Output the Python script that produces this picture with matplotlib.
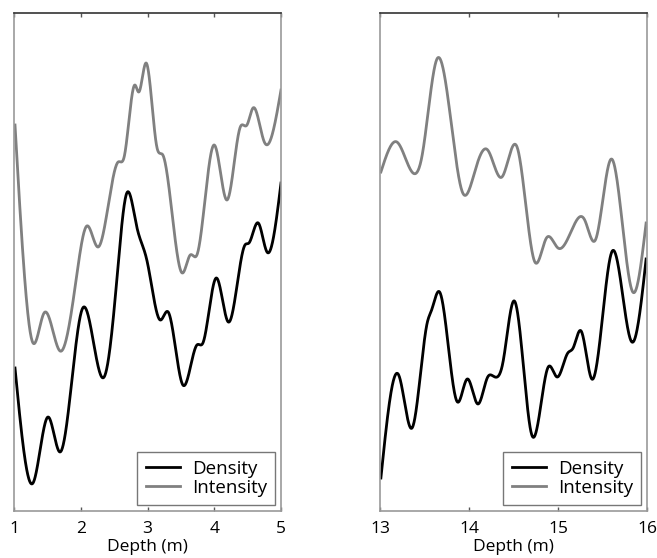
import numpy as np
import matplotlib
matplotlib.use("Agg")
import matplotlib.pyplot as plt

plt.rcParams['font.family'] = ['Open Sans', 'DejaVu Sans']

# Left panel data (depth m, arbitrary signal)
left_int_x = [1.015, 1.285, 1.45, 1.69, 1.93, 2.09, 2.26, 2.56, 2.65, 2.81, 2.87, 2.98,
              3.14, 3.23, 3.52, 3.64, 3.74, 4.00, 4.19, 4.39, 4.49, 4.58, 4.75, 5.0]
left_int_y = [386, 168, 198, 160, 231, 285, 264, 349, 354, 426, 419, 448,
              364, 356, 238, 256, 256, 366, 311, 384, 386, 403, 369, 421]
left_den_x = [1.015, 1.285, 1.51, 1.69, 2.03, 2.35, 2.54, 2.69, 2.84, 2.99, 3.19, 3.31, 3.53,
              3.74, 3.83, 4.03, 4.21, 4.46, 4.52, 4.66, 4.79, 5.0]
left_den_y = [143, 28, 94, 59, 203, 134, 231, 318, 284, 251, 191, 199, 126,
              166, 168, 233, 189, 266, 268, 288, 259, 328]

# Right panel data
right_int_x = [13.01, 13.19, 13.36, 13.47, 13.64, 13.93, 14.07, 14.21, 14.37, 14.54, 14.74,
               14.87, 15.0, 15.17, 15.30, 15.42, 15.60, 15.84, 15.99]
right_int_y = [339, 369, 339, 354, 452, 318, 341, 361, 334, 364, 249,
               273, 263, 284, 291, 271, 352, 219, 288]
right_den_x = [13.01, 13.21, 13.36, 13.53, 13.58, 13.67, 13.87, 13.98, 14.10, 14.21, 14.27,
               14.38, 14.51, 14.71, 14.89, 14.99, 15.11, 15.17, 15.26, 15.38, 15.61, 15.83, 15.99]
right_den_y = [33, 136, 83, 188, 201, 219, 109, 132, 107, 134, 135,
               148, 210, 75, 144, 134, 158, 163, 180, 132, 260, 169, 252]

left_ticks = [1, 2, 3, 4, 5]
right_ticks = [13, 14, 15, 16]
xlabel = "Depth (m)"
labels = ["Density", "Intensity"]


def spline(x, y, xs):
    """Natural cubic spline through the read points (for smooth drawing)."""
    x = np.asarray(x, float); y = np.asarray(y, float)
    n = len(x); h = np.diff(x)
    A = np.zeros((n, n)); b = np.zeros(n)
    A[0, 0] = A[-1, -1] = 1.0
    for i in range(1, n - 1):
        A[i, i - 1] = h[i - 1]
        A[i, i] = 2 * (h[i - 1] + h[i])
        A[i, i + 1] = h[i]
        b[i] = 3 * ((y[i + 1] - y[i]) / h[i] - (y[i] - y[i - 1]) / h[i - 1])
    c = np.linalg.solve(A, b)
    bb = (y[1:] - y[:-1]) / h - h * (2 * c[:-1] + c[1:]) / 3
    d = (c[1:] - c[:-1]) / (3 * h)
    idx = np.clip(np.searchsorted(x, xs) - 1, 0, n - 2)
    t = xs - x[idx]
    return y[idx] + bb[idx] * t + c[idx] * t**2 + d[idx] * t**3


fig = plt.figure(figsize=(6.57, 5.58), dpi=100)
W, H = 657, 558
axL = fig.add_axes([14 / W, 1 - 511 / H, 267 / W, 498 / H])
axR = fig.add_axes([380 / W, 1 - 511 / H, 267 / W, 498 / H])

panels = [
    (axL, left_den_x, left_den_y, left_int_x, left_int_y, left_ticks, (1, 5)),
    (axR, right_den_x, right_den_y, right_int_x, right_int_y, right_ticks, (13, 16)),
]
for ax, dx, dy, ix, iy, ticks, xl in panels:
    xs = np.linspace(dx[0], dx[-1], 1000)
    ax.plot(xs, spline(dx, dy, xs), color='black', lw=2.0, label=labels[0])
    xs2 = np.linspace(ix[0], ix[-1], 1000)
    ax.plot(xs2, spline(ix, iy, xs2), color='#808080', lw=2.0, label=labels[1])
    ax.set_xlim(*xl)
    ax.set_ylim(0, 498)
    ax.set_yticks([])
    ax.set_xticks(ticks)
    ax.tick_params(axis='x', direction='in', top=True, bottom=True, length=3,
                   width=1.0, labelsize=12.5, pad=7, color='#555555')
    ax.set_xlabel(xlabel, fontsize=12.5)
    ax.xaxis.set_label_coords(0.5, -0.057)
    for s in ['left', 'right', 'bottom']:
        ax.spines[s].set_color('#9a9a9a')
        ax.spines[s].set_linewidth(1.2)
    ax.spines['top'].set_color('#333333')
    ax.spines['top'].set_linewidth(1.2)
    leg = ax.legend(loc='lower right', fontsize=13.5, frameon=True, fancybox=False,
                    edgecolor='#555555', borderaxespad=0.3, handlelength=1.8,
                    handletextpad=0.65, labelspacing=0.05, borderpad=0.45)
    leg.get_frame().set_linewidth(1.0)

fig.savefig("out.png", dpi=100)
